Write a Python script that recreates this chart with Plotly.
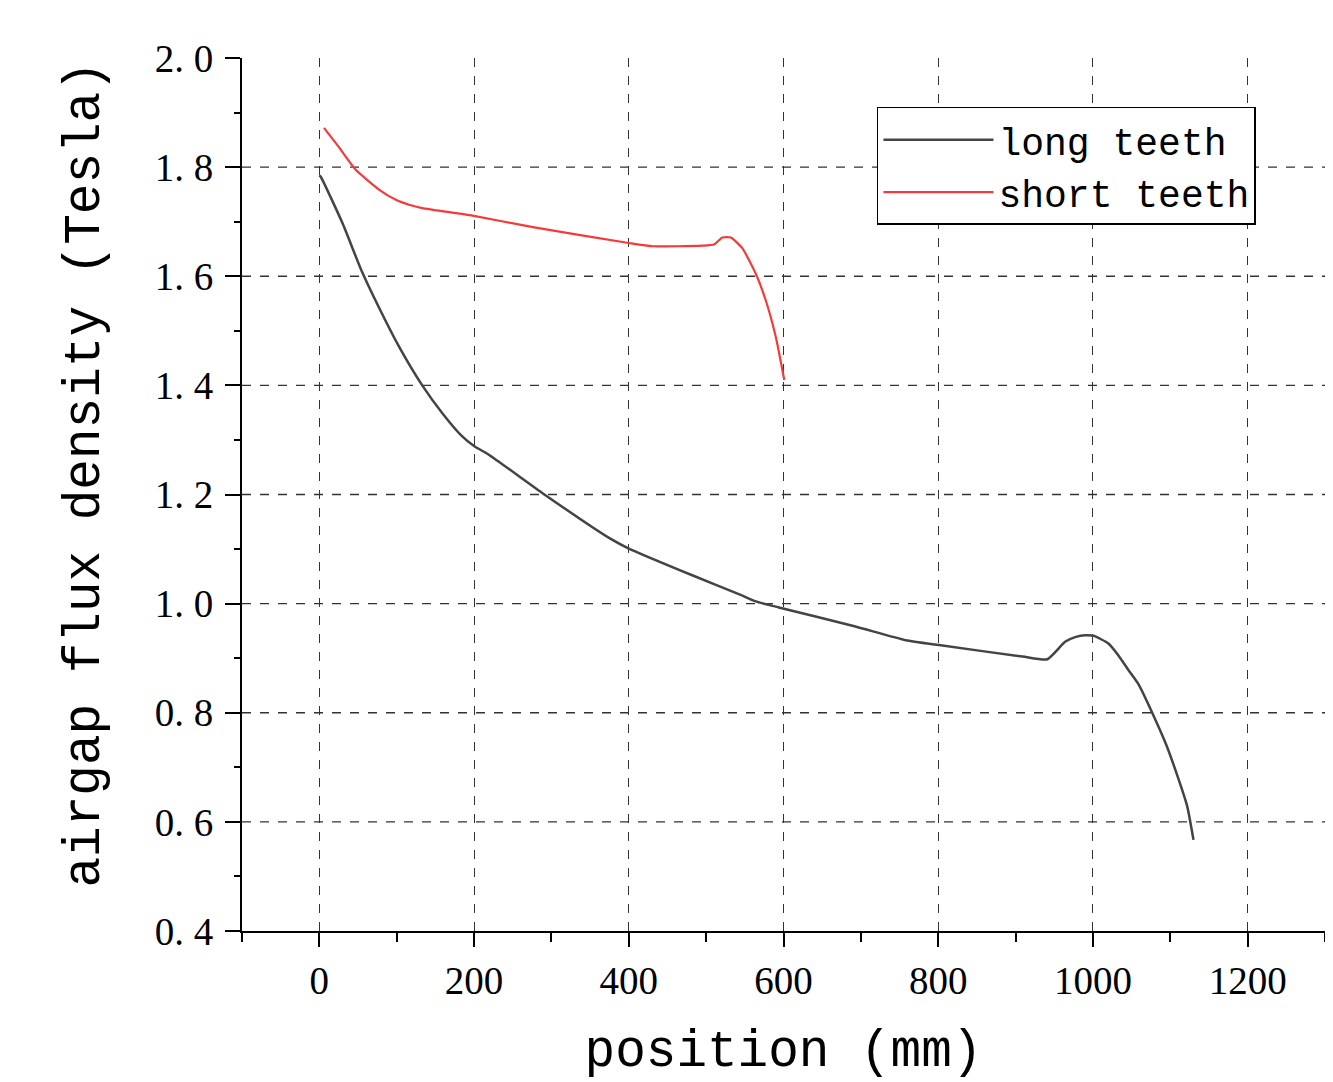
import plotly.graph_objects as go

# long teeth series
long_x = [0, 2, 30, 54, 78, 103, 133, 159, 183, 200, 220, 289, 375, 400, 482, 543, 564, 594, 693, 758, 801, 909, 941, 964, 978, 990, 1001, 1020, 1033, 1046, 1059, 1076, 1094, 1111, 1122, 1130]
long_y = [1.785, 1.782, 1.697, 1.612, 1.540, 1.471, 1.400, 1.349, 1.309, 1.289, 1.272, 1.202, 1.120, 1.101, 1.052, 1.017, 1.004, 0.993, 0.958, 0.933, 0.924, 0.903, 0.898, 0.930, 0.939, 0.942, 0.941, 0.927, 0.905, 0.878, 0.852, 0.802, 0.744, 0.677, 0.628, 0.567]

# short teeth series
short_x = [6, 25, 47, 78, 99, 116, 133, 198, 276, 400, 431, 495, 510, 521, 532, 547, 564, 577, 590, 601]
short_y = [1.872, 1.837, 1.795, 1.758, 1.740, 1.731, 1.725, 1.711, 1.690, 1.661, 1.655, 1.656, 1.658, 1.671, 1.671, 1.651, 1.605, 1.556, 1.489, 1.41]

y_tickvals = [0.4, 0.6, 0.8, 1.0, 1.2, 1.4, 1.6, 1.8, 2.0]
y_ticktext = ["0. 4", "0. 6", "0. 8", "1. 0", "1. 2", "1. 4", "1. 6", "1. 8", "2. 0"]
y_gridvals = [0.6, 0.8, 1.0, 1.2, 1.4, 1.6, 1.8]
x_tickvals = [0, 200, 400, 600, 800, 1000, 1200]

fig = go.Figure()
fig.add_trace(go.Scatter(x=long_x, y=long_y, mode="lines", name="long teeth",
                         line=dict(color="#444444", width=2.5, shape="spline", smoothing=0.5)))
fig.add_trace(go.Scatter(x=short_x, y=short_y, mode="lines", name="short teeth",
                         line=dict(color="#f53a3a", width=2.2, shape="spline", smoothing=0.5)))

for gv in y_gridvals:
    fig.add_shape(type="line", xref="paper", yref="y", x0=0, x1=1, y0=gv, y1=gv,
                  line=dict(color="#333333", width=1.3, dash="dash"), layer="below")

tick_font = dict(family="Liberation Serif", size=39, color="black")
title_font = dict(family="Liberation Mono", size=51, color="black")

fig.add_annotation(text="airgap flux density (Tesla)", xref="paper", yref="paper",
                   x=0, y=0.5, xanchor="center", yanchor="middle", xshift=-157, yshift=20,
                   textangle=-90, showarrow=False, font=title_font)

fig.update_layout(
    width=1333, height=1082,
    margin=dict(l=234, r=16, t=50, b=159),
    paper_bgcolor="white", plot_bgcolor="white",
    showlegend=True,
    legend=dict(x=0.5863, y=0.9439, xanchor="left", yanchor="top",
                bgcolor="white", bordercolor="black", borderwidth=1.5,
                font=dict(family="Liberation Mono", size=38, color="black"),
                itemwidth=110, tracegroupgap=0),
    xaxis=dict(range=[-100, 1300], tickvals=x_tickvals, ticks="outside", ticklen=14, tickwidth=2,
               tickcolor="black", showline=True, linecolor="black", linewidth=2,
               showgrid=True, gridcolor="#333333", griddash="dash", gridwidth=1.3,
               zeroline=False, tickfont=tick_font, ticklabelstandoff=0, automargin=False,
               minor=dict(dtick=100, tick0=0, ticks="outside", ticklen=9, tickwidth=2,
                          tickcolor="black", showgrid=False),
               title=dict(text="position (mm)", font=title_font, standoff=30)),
    yaxis=dict(range=[0.4, 2.0], tickvals=y_tickvals, ticktext=y_ticktext, ticks="outside",
               ticklen=15, tickwidth=2, tickcolor="black", showline=True, linecolor="black",
               linewidth=2, showgrid=False,
               zeroline=False, tickfont=tick_font, ticklabelstandoff=4, automargin=False,
               minor=dict(dtick=0.1, tick0=0.4, ticks="outside", ticklen=6, tickwidth=2,
                          tickcolor="black", showgrid=False)),
)

fig.write_html("out.html")
